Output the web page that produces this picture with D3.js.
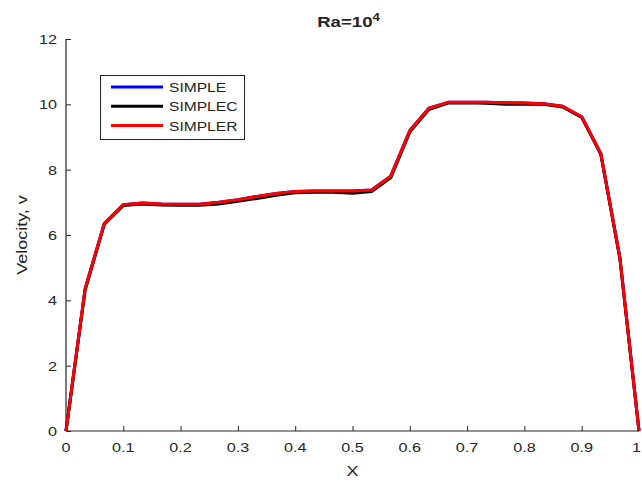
<!DOCTYPE html>
<html>
<head>
<meta charset="utf-8">
<script src="https://cdn.jsdelivr.net/npm/d3@7"></script>
<style>
  html, body { margin: 0; padding: 0; background: #fff; }
  svg { display: block; }
  text { font-family: "Liberation Sans", Arial, sans-serif; fill: #262626; }
</style>
</head>
<body>
<svg id="chart" width="642" height="483"></svg>
<script>
// ---- data ----
const xValues = [0, 0.0333, 0.0667, 0.1, 0.1333, 0.1667, 0.2, 0.2333, 0.2667, 0.3, 0.3333, 0.3667, 0.4, 0.4333, 0.4667, 0.5, 0.5333, 0.5667, 0.6, 0.6333, 0.6667, 0.7, 0.7333, 0.7667, 0.8, 0.8333, 0.8667, 0.9, 0.9333, 0.9667, 1.0];
const simpleV  = [0, 4.35, 6.35, 6.93, 6.98, 6.95, 6.94, 6.94, 7.00, 7.08, 7.18, 7.27, 7.33, 7.35, 7.35, 7.35, 7.38, 7.80, 9.20, 9.88, 10.06, 10.06, 10.06, 10.05, 10.04, 10.02, 9.94, 9.62, 8.50, 5.30, 0];
const simplecV = [0, 4.30, 6.32, 6.90, 6.95, 6.92, 6.91, 6.91, 6.95, 7.03, 7.12, 7.22, 7.29, 7.31, 7.31, 7.28, 7.33, 7.75, 9.15, 9.84, 10.04, 10.05, 10.03, 10.00, 10.01, 10.00, 9.92, 9.60, 8.47, 5.27, 0];
const simplerV = [0, 4.35, 6.35, 6.93, 6.98, 6.95, 6.94, 6.94, 7.00, 7.08, 7.18, 7.27, 7.33, 7.35, 7.35, 7.35, 7.38, 7.80, 9.20, 9.88, 10.06, 10.06, 10.06, 10.05, 10.04, 10.02, 9.94, 9.62, 8.50, 5.30, 0];
const seriesNames = ["SIMPLE", "SIMPLEC", "SIMPLER"];
const seriesColors = ["#0000ff", "#000000", "#ff0000"];
const xTicks = [0, 0.1, 0.2, 0.3, 0.4, 0.5, 0.6, 0.7, 0.8, 0.9, 1];
const xTickLabels = ["0", "0.1", "0.2", "0.3", "0.4", "0.5", "0.6", "0.7", "0.8", "0.9", "1"];
const yTicks = [0, 2, 4, 6, 8, 10, 12];
const titleText = "Ra=10";
const titleSup = "4";
const xLabel = "X";
const yLabel = "Velocity, v";

// ---- layout ----
const svg = d3.select("#chart");
const L = 66, R = 639, T = 39, B = 431;
const SX = 1.2; // horizontal text stretch
const x = d3.scaleLinear().domain([0, 1]).range([L, R]);
const y = d3.scaleLinear().domain([0, 12]).range([B, T]);
const axisColor = "#262626";

// axes
const xAxis = d3.axisBottom(x).tickValues(xTicks).tickSize(-5).tickFormat("");
const yAxis = d3.axisLeft(y).tickValues(yTicks).tickSize(-5).tickFormat("");
const gx = svg.append("g").attr("transform", `translate(0,${B})`).call(xAxis);
const gy = svg.append("g").attr("transform", `translate(${L},0)`).call(yAxis);
[gx, gy].forEach(g => {
  g.select(".domain").attr("stroke", axisColor).attr("stroke-width", 1.2);
  g.selectAll(".tick line").attr("stroke", axisColor).attr("stroke-width", 1);
});
gx.select(".domain").attr("d", `M${L},0H${R}`);
gy.select(".domain").attr("d", `M0,${B}V${T}`);

// tick labels
svg.append("g").selectAll("text").data(xTicks).join("text")
  .attr("transform", (d, i) => i === xTicks.length - 1
      ? `translate(641,${B + 21}) scale(${SX},1)`
      : `translate(${x(d)},${B + 21}) scale(${SX},1)`)
  .attr("text-anchor", (d, i) => i === xTicks.length - 1 ? "end" : "middle")
  .attr("font-size", 13.5)
  .text((d, i) => xTickLabels[i]);
svg.append("g").selectAll("text").data(yTicks).join("text")
  .attr("transform", d => `translate(${L - 9},${y(d) + 5}) scale(${SX},1)`)
  .attr("text-anchor", "end").attr("font-size", 13.5)
  .text(d => d);

// axis labels
svg.append("text").attr("transform", `translate(${(L + R) / 2},${B + 45}) scale(${SX},1)`)
  .attr("text-anchor", "middle").attr("font-size", 15).text(xLabel);
svg.append("text").attr("transform", `translate(27,${(T + B) / 2}) rotate(-90) scale(${SX},1)`)
  .attr("text-anchor", "middle").attr("font-size", 15).text(yLabel);

// title
const t = svg.append("text").attr("transform", `translate(${(L + R) / 2 - 4},27) scale(${SX},1)`)
  .attr("text-anchor", "middle").attr("font-size", 15.5).attr("font-weight", "bold")
  .attr("fill", "#000");
t.append("tspan").text(titleText);
t.append("tspan").attr("font-size", 11).attr("dy", -6).text(titleSup);

// lines
const line = d3.line().x((d, i) => x(xValues[i])).y(d => y(d));
const allSeries = [simpleV, simplecV, simplerV];
svg.append("g").selectAll("path").data(allSeries).join("path")
  .attr("d", d => line(d))
  .attr("fill", "none")
  .attr("stroke", (d, i) => seriesColors[i])
  .attr("stroke-width", 3)
  .attr("stroke-linejoin", "round");

// legend
const lg = svg.append("g");
lg.append("rect").attr("x", 100.5).attr("y", 75.5).attr("width", 144).attr("height", 64)
  .attr("fill", "#fff").attr("stroke", axisColor).attr("stroke-width", 1);
const rows = lg.selectAll("g.row").data(seriesNames).join("g").attr("class", "row")
  .attr("transform", (d, i) => `translate(0,${87 + i * 19.3})`);
rows.append("line").attr("x1", 111).attr("x2", 163).attr("y1", 0).attr("y2", 0)
  .attr("stroke", (d, i) => seriesColors[i]).attr("stroke-width", 3);
rows.append("text").attr("transform", `translate(169,5) scale(${SX},1)`)
  .attr("font-size", 13).text(d => d);
</script>
</body>
</html>
